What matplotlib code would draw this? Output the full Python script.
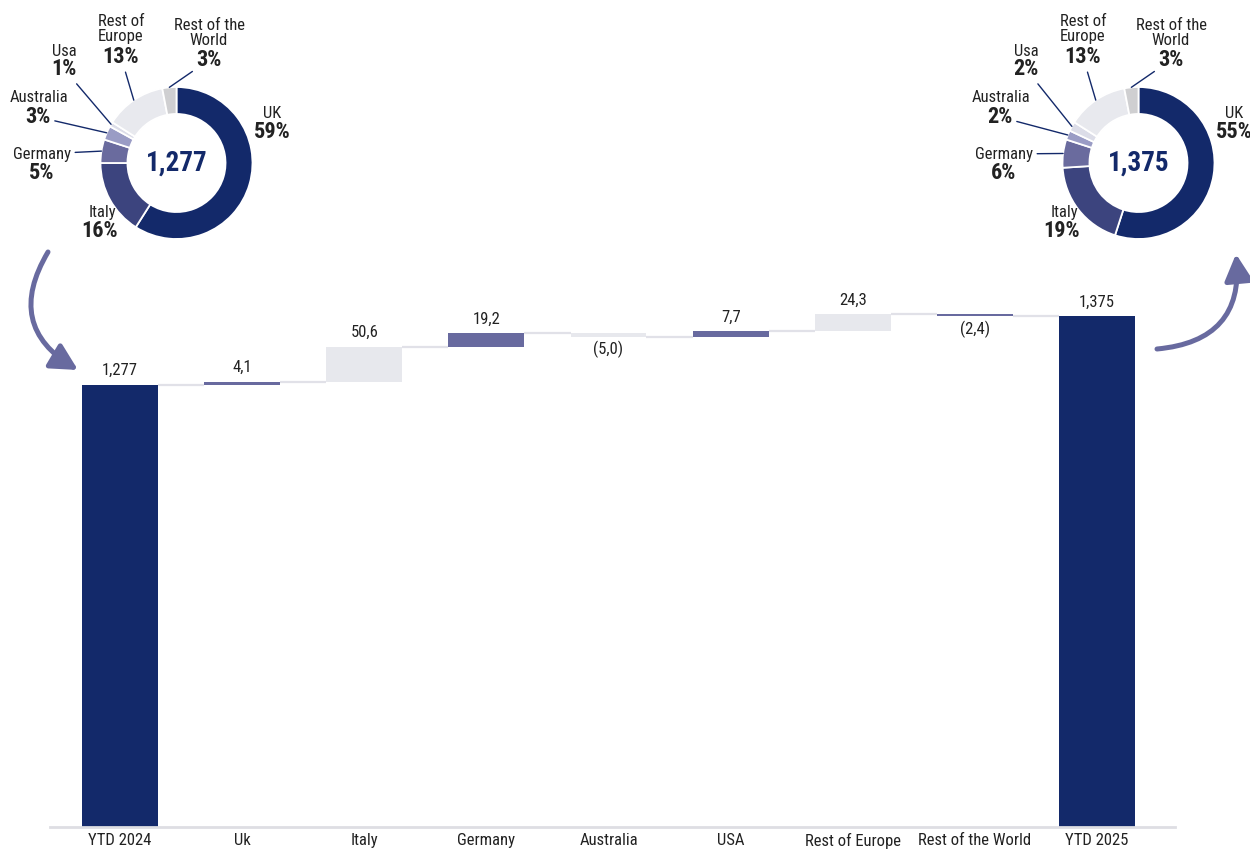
import numpy as np
import matplotlib
matplotlib.use("Agg")
import matplotlib.pyplot as plt
from matplotlib.patches import FancyArrowPatch, ArrowStyle

# ---- waterfall data -------------------------------------------------------
categories = ["YTD 2024", "Uk", "Italy", "Germany", "Australia", "USA",
              "Rest of Europe", "Rest of the World", "YTD 2025"]
start_total = 1277
deltas = [4.1, 50.6, 19.2, -5.0, 7.7, 24.3, -2.4]
end_total = 1375

# ---- donut data (share of total, %) --------------------------------------
donut_names = ["UK", "Italy", "Germany", "Australia", "Usa",
               "Rest of\nEurope", "Rest of the\nWorld"]
share_2024 = [59, 16, 5, 3, 1, 13, 3]
share_2025 = [55, 19, 6, 2, 2, 13, 3]

# ---- styling ---------------------------------------------------------------
NAVY = "#13296a"
PURPLE = "#686a9f"
LIGHT = "#e7e8ed"
TEXT = "#222222"
donut_colors = ["#13296a", "#3c447e", "#6a6b9e", "#9a9cc5", "#dcdde8",
                "#e8e9ee", "#cfcfd1"]
delta_colors = [PURPLE, LIGHT, PURPLE, LIGHT, PURPLE, LIGHT, PURPLE]

plt.rcParams["font.family"] = ["Roboto Condensed", "Open Sans Condensed",
                               "Liberation Sans Narrow", "Lato", "DejaVu Sans"]

W, H = 1250, 849
fig = plt.figure(figsize=(W / 100, H / 100), dpi=100)


def px_rect(left, top, width, height):
    """Axes rectangle given in pixels from the top-left corner."""
    return [left / W, (H - top - height) / H, width / W, height / H]


# ---- waterfall -------------------------------------------------------------
ax = fig.add_axes(px_rect(50, 299, 1125, 528))

# The base totals are compressed below the break so the small changes stay visible
BREAK = 1250.0
K = 0.4835


def fwd(v):
    v = np.asarray(v, dtype=float)
    return np.where(v < BREAK, v * K, BREAK * K + (v - BREAK))


def inv(t):
    t = np.asarray(t, dtype=float)
    return np.where(t < BREAK * K, t / K, t - BREAK * K + BREAK)


ax.set_yscale("function", functions=(fwd, inv))
ax.set_ylim(0, 1400)
ax.set_xlim(-0.5732, 8.6387)

bar_w = 0.6223
x = np.arange(len(categories))

levels = [start_total]
for d in deltas:
    levels.append(levels[-1] + d)

# totals
ax.bar([x[0], x[-1]], [start_total, end_total], width=bar_w, color=NAVY, zorder=2)
# changes
bottoms = levels[:-1]
ax.bar(x[1:-1], deltas, bottom=bottoms, width=bar_w, color=delta_colors, zorder=2)

# connectors between consecutive bars
for i in range(len(categories) - 1):
    lvl = levels[i]
    ax.plot([x[i] + bar_w / 2, x[i + 1] - bar_w / 2], [lvl, lvl],
            color="#e1e1e8", lw=1.6, zorder=1, solid_capstyle="butt")


def fmt_delta(d):
    s = f"{abs(d):.1f}".replace(".", ",")
    return f"({s})" if d < 0 else s


label_kw = dict(ha="center", fontsize=12, color=TEXT, textcoords="offset points")
ax.annotate(f"{start_total:,.0f}", (x[0], start_total), xytext=(0, 5), va="bottom", **label_kw)
ax.annotate(f"{end_total:,.0f}", (x[-1], end_total), xytext=(0, 5), va="bottom", **label_kw)
for i, d in enumerate(deltas):
    xi = x[i + 1]
    if d >= 0:
        ax.annotate(fmt_delta(d), (xi, bottoms[i] + d), xytext=(0, 5), va="bottom", **label_kw)
    else:
        ax.annotate(fmt_delta(d), (xi, bottoms[i] + d), xytext=(0, -3), va="top", **label_kw)

ax.set_xticks(x, categories)
ax.tick_params(axis="x", length=0, pad=4, labelsize=12, labelcolor=TEXT)
ax.set_yticks([])
ax.yaxis.set_minor_locator(matplotlib.ticker.NullLocator())
for side in ("left", "top", "right"):
    ax.spines[side].set_visible(False)
ax.spines["bottom"].set_color("#dedee3")
ax.spines["bottom"].set_linewidth(2.0)
ax.patch.set_visible(False)

# ---- donuts ----------------------------------------------------------------
R_PX = 76.0
# label anchors (pixels relative to the donut centre, y pointing down)
name_off = [(95.5, -50), (-74.5, 49), (-134.5, -9), (-137.5, -66),
            (-112.5, -112), (-55.5, -134), (32.5, -130)]
pct_off = [(95.5, -31), (-76.5, 68), (-134.5, 10), (-138.5, -46),
           (-112.5, -94), (-55.5, -106), (32.5, -103)]
# which label carries the leader line: None, "name" or "pct"
leader = [None, None, "name", "pct", "pct", "pct", "pct"]


def draw_donut(cx, cy, shares, total):
    box = 300
    dax = fig.add_axes(px_rect(cx - box / 2, cy - box / 2, box, box))
    wedges, _ = dax.pie(shares, colors=donut_colors, startangle=90, counterclock=False,
                        radius=1.0, wedgeprops=dict(width=0.355, edgecolor="white", linewidth=1.3))
    lim = box / 2 / R_PX
    dax.set_xlim(-lim, lim)
    dax.set_ylim(-lim, lim)
    dax.set_aspect("equal", adjustable="box")
    dax.axis("off")
    dax.text(0, 0, f"{total:,.0f}", ha="center", va="center", fontsize=19.5,
             fontweight="bold", color=NAVY)
    for i, w in enumerate(wedges):
        mid = np.deg2rad((w.theta1 + w.theta2) / 2)
        tip = (np.cos(mid), np.sin(mid))
        nx, ny = name_off[i][0] / R_PX, -name_off[i][1] / R_PX
        tx, ty = pct_off[i][0] / R_PX, -pct_off[i][1] / R_PX
        arrow = dict(arrowstyle="-", color=NAVY, lw=1.0, shrinkA=1, shrinkB=0)
        dax.annotate(donut_names[i], tip, xytext=(nx, ny), ha="center", va="center",
                     fontsize=12, color=TEXT, linespacing=1.05,
                     arrowprops=arrow if leader[i] == "name" else None,
                     annotation_clip=False)
        dax.annotate(f"{shares[i]}%", tip, xytext=(tx, ty), ha="center", va="center",
                     fontsize=16, fontweight="bold", color=TEXT,
                     arrowprops=arrow if leader[i] == "pct" else None,
                     annotation_clip=False)
    return dax


draw_donut(176.5, 163, share_2024, start_total)
draw_donut(1138.5, 163, share_2025, end_total)

# ---- curved arrows ---------------------------------------------------------
def fig_pt(px, py):
    return (px / W, (H - py) / H)


head = ArrowStyle("-|>", head_length=0.8, head_width=0.42)
for a, b in [((48, 252), (78, 370)), ((1157, 349), (1236, 254))]:
    arr = FancyArrowPatch(fig_pt(*a), fig_pt(*b), transform=fig.transFigure,
                          connectionstyle="arc3,rad=0.5", arrowstyle=head,
                          mutation_scale=20, lw=3.6, color=PURPLE,
                          shrinkA=0, shrinkB=0)
    fig.patches.append(arr)

fig.savefig("out.png", dpi=100)
